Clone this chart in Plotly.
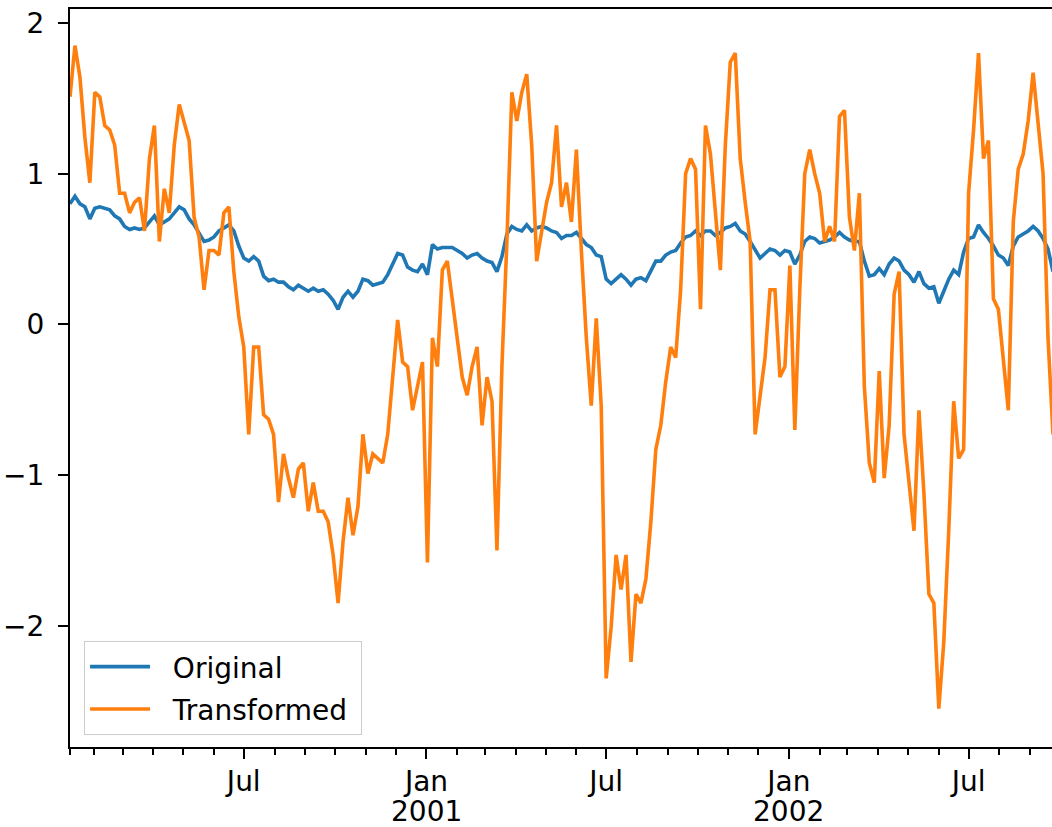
import pandas as pd
import plotly.graph_objects as go

# Dates (every 5 days starting at the first plotted day)
dates = pd.date_range("2000-01-08", periods=199, freq="5D")

original = [
    0.80, 0.85, 0.80, 0.78, 0.70, 0.77, 0.78, 0.77, 0.76, 0.72,
    0.70, 0.65, 0.63, 0.64, 0.63, 0.64, 0.68, 0.72, 0.66, 0.68,
    0.70, 0.74, 0.78, 0.76, 0.70, 0.66, 0.60, 0.55, 0.56, 0.58,
    0.62, 0.64, 0.66, 0.62, 0.52, 0.44, 0.42, 0.45, 0.42, 0.32,
    0.29, 0.30, 0.28, 0.28, 0.25, 0.23, 0.26, 0.24, 0.22, 0.24,
    0.22, 0.23, 0.20, 0.16, 0.10, 0.18, 0.22, 0.18, 0.22, 0.30,
    0.29, 0.26, 0.27, 0.28, 0.33, 0.40, 0.47, 0.46, 0.38, 0.36,
    0.35, 0.40, 0.33, 0.53, 0.50, 0.51, 0.51, 0.51, 0.49, 0.47,
    0.44, 0.46, 0.47, 0.44, 0.42, 0.41, 0.35, 0.45, 0.60, 0.65,
    0.63, 0.62, 0.66, 0.62, 0.64, 0.65, 0.64, 0.62, 0.61, 0.57,
    0.59, 0.59, 0.61, 0.57, 0.53, 0.51, 0.46, 0.45, 0.30, 0.27,
    0.30, 0.33, 0.30, 0.26, 0.30, 0.31, 0.29, 0.36, 0.42, 0.42,
    0.46, 0.48, 0.49, 0.54, 0.58, 0.59, 0.62, 0.59, 0.62, 0.62,
    0.59, 0.61, 0.64, 0.65, 0.67, 0.62, 0.60, 0.55, 0.50, 0.44,
    0.47, 0.50, 0.49, 0.46, 0.49, 0.48, 0.40, 0.46, 0.55, 0.58,
    0.57, 0.54, 0.55, 0.56, 0.58, 0.61, 0.58, 0.56, 0.55, 0.55,
    0.42, 0.32, 0.33, 0.37, 0.33, 0.40, 0.44, 0.42, 0.36, 0.33,
    0.28, 0.35, 0.27, 0.24, 0.25, 0.14, 0.22, 0.30, 0.36, 0.33,
    0.48, 0.57, 0.58, 0.66, 0.61, 0.57, 0.52, 0.46, 0.44, 0.39,
    0.52, 0.58, 0.60, 0.62, 0.65, 0.62, 0.57, 0.50, 0.35,
]

transformed = [
    1.51, 1.85, 1.64, 1.24, 0.94, 1.54, 1.51, 1.32, 1.29, 1.19,
    0.87, 0.87, 0.74, 0.81, 0.84, 0.62, 1.10, 1.32, 0.55, 0.90,
    0.74, 1.19, 1.46, 1.35, 1.22, 0.71, 0.58, 0.23, 0.49, 0.49,
    0.46, 0.74, 0.78, 0.35, 0.05, -0.15, -0.73, -0.15, -0.15, -0.60,
    -0.63, -0.73, -1.18, -0.86, -1.02, -1.15, -0.96, -0.92, -1.24, -1.05,
    -1.24, -1.24, -1.31, -1.53, -1.85, -1.44, -1.15, -1.40, -1.21, -0.73,
    -0.99, -0.86, -0.89, -0.92, -0.73, -0.38, 0.03, -0.25, -0.28, -0.57,
    -0.41, -0.25, -1.58, -0.09, -0.28, 0.36, 0.42, 0.17, -0.06, -0.35,
    -0.47, -0.28, -0.15, -0.67, -0.35, -0.51, -1.50, -0.28, 0.55, 1.54,
    1.35, 1.54, 1.66, 1.19, 0.42, 0.62, 0.81, 0.94, 1.32, 0.78,
    0.94, 0.68, 1.16, 0.49, -0.09, -0.54, 0.04, -0.54, -2.35, -2.01,
    -1.53, -1.76, -1.53, -2.24, -1.79, -1.85, -1.69, -1.31, -0.83, -0.67,
    -0.38, -0.15, -0.22, 0.23, 1.00, 1.10, 1.03, 0.10, 1.32, 1.13,
    0.71, 0.36, 1.19, 1.74, 1.80, 1.10, 0.81, 0.55, -0.73, -0.47,
    -0.22, 0.23, 0.23, -0.35, -0.28, 0.39, -0.70, 0.23, 1.00, 1.16,
    1.00, 0.87, 0.55, 0.65, 0.55, 1.38, 1.42, 0.71, 0.49, 0.87,
    -0.41, -0.92, -1.05, -0.31, -1.02, -0.67, 0.20, 0.35, -0.73, -1.05,
    -1.37, -0.57, -1.12, -1.79, -1.85, -2.55, -2.11, -1.37, -0.51, -0.89,
    -0.83, 0.87, 1.29, 1.80, 1.10, 1.22, 0.17, 0.10, -0.25, -0.57,
    0.68, 1.03, 1.13, 1.35, 1.67, 1.32, 1.00, -0.09, -0.73,
]

series_names = ["Original", "Transformed"]
major_ticks = ["2000-07-01", "2001-01-01", "2001-07-01", "2002-01-01", "2002-07-01"]
major_labels = ["Jul", "Jan", "Jul", "Jan", "Jul"]
year_ticks = ["2001-01-01", "2002-01-01"]
year_labels = ["2001", "2002"]
y_ticks = [-2, -1, 0, 1, 2]
y_labels = ["\u22122", "\u22121", "0", "1", "2"]

x_start = pd.Timestamp("2000-01-08")
x_end = x_start + pd.Timedelta(days=989)
minor_ticks = [x_start] + list(pd.date_range("2000-02-01", x_end, freq="MS"))

FONT = "DejaVu Sans"
FS = 28
NB = "\u00a0"

fig = go.Figure()
for name, vals, color in [(series_names[0], original, "#1f77b4"),
                          (series_names[1], transformed, "#ff7f0e")]:
    fig.add_trace(go.Scatter(x=dates, y=vals, mode="lines",
                             name=NB * 2 + name + NB, legendgroup=name,
                             line=dict(color=color, width=3.6)))

for xv, txt in zip(year_ticks, year_labels):
    fig.add_annotation(x=xv, xref="x", y=0, yref="paper", yanchor="middle",
                       yshift=-64, text=txt, showarrow=False, borderpad=0,
                       font=dict(family=FONT, size=FS, color="black"))

fig.update_layout(
    width=1052, height=827,
    margin=dict(l=70, r=0, t=9, b=80, autoexpand=False),
    paper_bgcolor="white", plot_bgcolor="white",
    font=dict(family=FONT, size=FS, color="black"),
    showlegend=True,
    legend=dict(
        x=0.0143, y=0.0163, xanchor="left", yanchor="bottom",
        bgcolor="rgba(255,255,255,0.8)", bordercolor="#cccccc", borderwidth=1,
        font=dict(family=FONT, size=FS, color="black"),
        itemwidth=60, tracegroupgap=3, traceorder="grouped",
    ),
    xaxis=dict(
        range=[x_start, x_end], automargin=False,
        showgrid=False, zeroline=False,
        showline=True, linecolor="black", linewidth=2, mirror=True,
        tickmode="array", tickvals=major_ticks, ticktext=major_labels,
        ticks="outside", ticklen=10, tickwidth=2, tickcolor="black",
        ticklabelstandoff=-2,
        minor=dict(tickmode="array", tickvals=minor_ticks, ticks="outside",
                   ticklen=6, tickwidth=2, tickcolor="black", showgrid=False),
    ),
    yaxis=dict(
        range=[-2.805, 2.093], automargin=False,
        showgrid=False, zeroline=False,
        showline=True, linecolor="black", linewidth=2, mirror=False,
        tickmode="array", tickvals=y_ticks, ticktext=y_labels,
        ticks="outside", ticklen=10, tickwidth=2, tickcolor="black",
        ticklabelstandoff=8,
    ),
)

fig.write_html(
    "out.html",
    config={"displayModeBar": False},
    post_script="document.body.style.margin='0';document.body.style.overflow='hidden';",
)
